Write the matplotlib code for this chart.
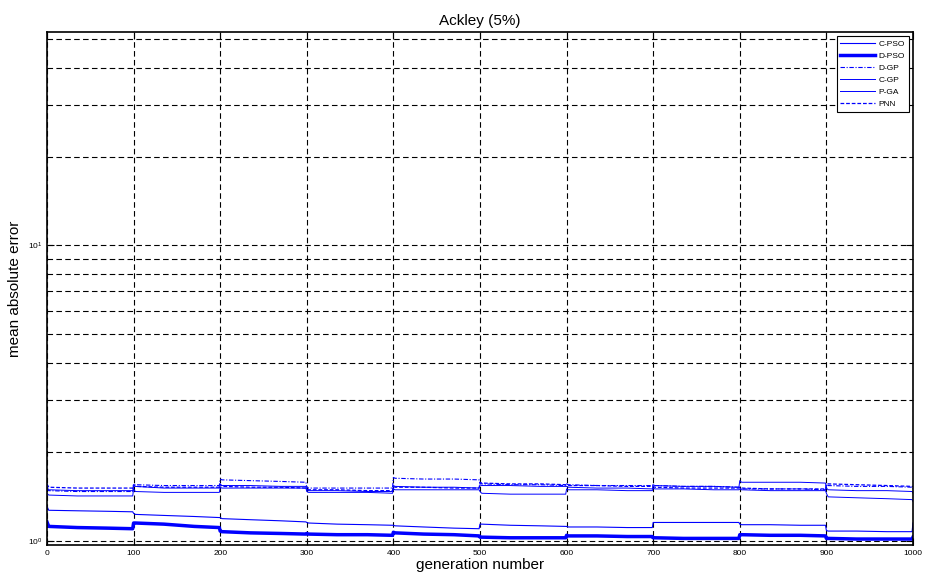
import numpy as np
import matplotlib
matplotlib.use('Agg')
import matplotlib.pyplot as plt
from matplotlib.ticker import LogLocator, NullFormatter, MultipleLocator

plt.rcParams['font.family'] = ['Liberation Sans', 'DejaVu Sans']

# generation knots: each block of 100 generations restarts (jump at block start)
offsets = [0, 2, 35, 70, 99]
gens = [b * 100 + o for b in range(10) for o in offsets] + [1000]

c_pso = [1.31, 1.27, 1.265, 1.26, 1.255,
         1.24, 1.23, 1.22, 1.21, 1.20,
         1.20, 1.19, 1.18, 1.17, 1.16,
         1.155, 1.15, 1.14, 1.135, 1.13,
         1.13, 1.125, 1.115, 1.105, 1.10,
         1.14, 1.14, 1.13, 1.125, 1.12,
         1.12, 1.115, 1.115, 1.11, 1.11,
         1.155, 1.155, 1.155, 1.155, 1.155,
         1.14, 1.135, 1.135, 1.13, 1.13,
         1.085, 1.08, 1.08, 1.075, 1.075,
         1.15]
d_pso = [1.16, 1.12, 1.11, 1.105, 1.10,
         1.15, 1.15, 1.14, 1.12, 1.11,
         1.08, 1.075, 1.065, 1.06, 1.055,
         1.06, 1.055, 1.05, 1.05, 1.045,
         1.07, 1.065, 1.055, 1.05, 1.04,
         1.03, 1.03, 1.025, 1.025, 1.025,
         1.045, 1.04, 1.04, 1.035, 1.035,
         1.025, 1.025, 1.02, 1.02, 1.02,
         1.05, 1.05, 1.045, 1.045, 1.04,
         1.02, 1.02, 1.015, 1.015, 1.015,
         1.03]
d_gp = [1.50, 1.48, 1.47, 1.47, 1.47,
        1.56, 1.55, 1.54, 1.54, 1.54,
        1.62, 1.61, 1.60, 1.59, 1.58,
        1.52, 1.51, 1.51, 1.51, 1.51,
        1.64, 1.63, 1.62, 1.62, 1.61,
        1.57, 1.56, 1.55, 1.55, 1.54,
        1.56, 1.55, 1.54, 1.54, 1.54,
        1.55, 1.54, 1.53, 1.53, 1.52,
        1.51, 1.50, 1.50, 1.50, 1.49,
        1.55, 1.54, 1.53, 1.53, 1.52,
        1.50]
c_gp = [1.52, 1.49, 1.48, 1.48, 1.48,
        1.54, 1.53, 1.51, 1.51, 1.51,
        1.55, 1.54, 1.54, 1.53, 1.53,
        1.49, 1.48, 1.48, 1.47, 1.47,
        1.54, 1.53, 1.52, 1.52, 1.51,
        1.55, 1.54, 1.54, 1.53, 1.53,
        1.53, 1.52, 1.51, 1.51, 1.50,
        1.55, 1.54, 1.53, 1.53, 1.52,
        1.60, 1.58, 1.58, 1.58, 1.57,
        1.51, 1.49, 1.48, 1.48, 1.47,
        1.45]
p_ga = [1.45, 1.43, 1.42, 1.42, 1.42,
        1.50, 1.47, 1.46, 1.46, 1.46,
        1.52, 1.51, 1.51, 1.51, 1.51,
        1.47, 1.46, 1.46, 1.46, 1.45,
        1.50, 1.49, 1.49, 1.49, 1.49,
        1.47, 1.45, 1.44, 1.44, 1.44,
        1.50, 1.49, 1.49, 1.48, 1.48,
        1.51, 1.50, 1.50, 1.49, 1.49,
        1.50, 1.49, 1.48, 1.48, 1.48,
        1.45, 1.41, 1.40, 1.39, 1.38,
        1.36]
pnn = [1.56, 1.52, 1.51, 1.51, 1.51,
       1.55, 1.53, 1.52, 1.52, 1.52,
       1.56, 1.53, 1.52, 1.52, 1.51,
       1.50, 1.49, 1.49, 1.48, 1.48,
       1.53, 1.52, 1.52, 1.51, 1.51,
       1.58, 1.57, 1.56, 1.56, 1.55,
       1.55, 1.54, 1.54, 1.53, 1.53,
       1.53, 1.52, 1.51, 1.51, 1.51,
       1.52, 1.51, 1.50, 1.50, 1.50,
       1.56, 1.56, 1.55, 1.54, 1.53,
       1.53]

fig = plt.figure(figsize=(9.25, 5.84), dpi=100)
ax = fig.add_axes([0.0508, 0.0668, 0.9362, 0.878])

blue = '#0000ff'
ax.plot(gens, c_pso, color=blue, lw=0.8, label='C-PSO')
ax.plot(gens, d_pso, color=blue, lw=2.5, label='D-PSO')
ax.plot(gens, d_gp, color=blue, lw=0.8, ls=(0, (4, 1.5, 1, 1.5)), label='D-GP')
ax.plot(gens, c_gp, color=blue, lw=0.7, label='C-GP')
ax.plot(gens, p_ga, color=blue, lw=0.7, label='P-GA')
ax.plot(gens, pnn, color=blue, lw=0.9, ls=(0, (3, 1.5)), label='PNN')

ax.set_yscale('log')
ax.set_xlim(0, 1000)
ax.set_ylim(0.969, 52.7)
ax.xaxis.set_major_locator(MultipleLocator(100))
ax.yaxis.set_major_locator(LogLocator(base=10, numticks=10))
ax.yaxis.set_minor_locator(LogLocator(base=10, subs=np.arange(2, 10), numticks=20))
ax.yaxis.set_minor_formatter(NullFormatter())

ax.grid(True, which='both', axis='y', color='black', lw=0.8, ls=(0, (5, 3)))
ax.grid(True, which='major', axis='x', color='black', lw=0.8, ls=(0, (5, 3)))

ax.tick_params(which='both', direction='in', top=True, right=True, labelsize=6)
ax.tick_params(which='major', length=5, width=0.8)
ax.tick_params(which='minor', length=3, width=0.6)
for s in ax.spines.values():
    s.set_linewidth(1.2)

ax.set_title('Ackley (5%)', fontsize=11, pad=5)
ax.set_xlabel('generation number', fontsize=11, labelpad=1)
ax.set_ylabel('mean absolute error', fontsize=11, labelpad=4)

leg = ax.legend(loc='upper right', fontsize=6, handlelength=4.2, frameon=True,
                fancybox=False, framealpha=1, borderaxespad=0.5, labelspacing=0.5,
                handletextpad=0.4, borderpad=0.45)
leg.get_frame().set_edgecolor('black')
leg.get_frame().set_linewidth(0.8)

fig.savefig('out.png', dpi=100)
